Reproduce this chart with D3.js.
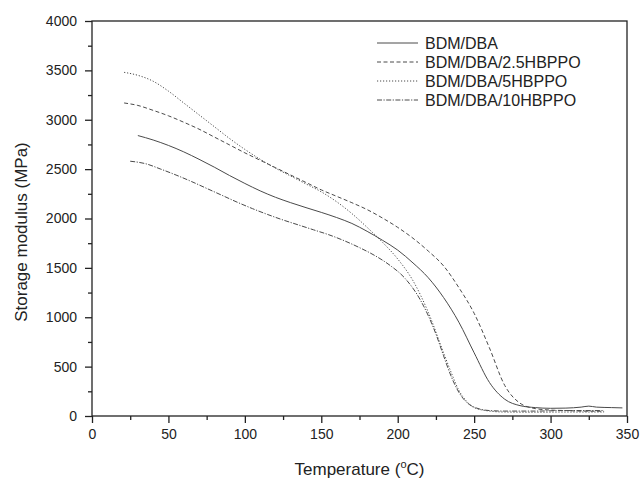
<!DOCTYPE html>
<html>
<head>
<meta charset="utf-8">
<script src="https://cdn.jsdelivr.net/npm/d3@7"></script>
<style>
  body { margin: 0; background: #fff; }
  svg { display: block; font-family: "Liberation Sans", Arial, sans-serif; }
</style>
</head>
<body>
<div id="chart"></div>
<script>
// 数据：温度 (°C) 与储能模量 (MPa)
const seriesNames = ['BDM/DBA', 'BDM/DBA/2.5HBPPO', 'BDM/DBA/5HBPPO', 'BDM/DBA/10HBPPO'];

const tempDBA = [30, 40, 50, 60, 70, 80, 90, 100, 110, 120, 130, 140, 150, 160, 170, 180, 190, 200, 210, 220, 230, 240, 250, 260, 270, 280, 290, 300, 310, 320, 325, 330, 340, 347];
const modDBA = [2840, 2795, 2740, 2675, 2600, 2520, 2435, 2355, 2280, 2215, 2160, 2110, 2062, 2010, 1950, 1870, 1780, 1680, 1550, 1400, 1200, 950, 640, 340, 170, 105, 85, 78, 80, 90, 100, 90, 85, 82];

const temp25 = [21, 30, 40, 50, 60, 70, 80, 90, 100, 110, 120, 130, 140, 150, 160, 170, 180, 190, 200, 210, 220, 230, 240, 250, 260, 270, 280, 290, 300, 310, 320, 335];
const mod25 = [3170, 3145, 3095, 3040, 2975, 2905, 2825, 2745, 2665, 2590, 2515, 2440, 2365, 2290, 2225, 2160, 2090, 2005, 1910, 1800, 1670, 1520, 1300, 1040, 690, 310, 130, 75, 60, 55, 50, 48];

const temp5 = [21, 30, 40, 50, 60, 70, 80, 90, 100, 110, 120, 130, 140, 150, 160, 170, 180, 190, 200, 210, 220, 230, 235, 240, 245, 250, 260, 270, 290, 310, 335];
const mod5 = [3480, 3450, 3390, 3290, 3170, 3050, 2930, 2810, 2700, 2600, 2510, 2430, 2350, 2270, 2170, 2050, 1910, 1760, 1590, 1370, 1050, 640, 440, 260, 150, 85, 50, 40, 38, 40, 40];

const temp10 = [25, 35, 45, 55, 65, 75, 85, 95, 105, 115, 125, 135, 145, 155, 165, 175, 185, 195, 205, 215, 225, 230, 235, 240, 245, 250, 260, 270, 290, 310, 335];
const mod10 = [2580, 2555, 2500, 2440, 2375, 2305, 2235, 2165, 2100, 2040, 1985, 1935, 1885, 1835, 1775, 1705, 1625, 1525, 1390, 1170, 830, 610, 400, 240, 140, 90, 55, 50, 50, 55, 55];

const xTicks = [0, 50, 100, 150, 200, 250, 300, 350];
const yTicks = [0, 500, 1000, 1500, 2000, 2500, 3000, 3500, 4000];

const series = [
  { name: seriesNames[0], t: tempDBA, v: modDBA, dash: null },
  { name: seriesNames[1], t: temp25, v: mod25, dash: '4,2.5' },
  { name: seriesNames[2], t: temp5, v: mod5, dash: '1.2,1.8' },
  { name: seriesNames[3], t: temp10, v: mod10, dash: '5,1.5,1.2,1.5' }
];

const width = 642, height = 480;
const margin = { left: 92, right: 15, top: 21, bottom: 64 };
const innerW = width - margin.left - margin.right;
const innerH = height - margin.top - margin.bottom;
const lineColor = '#4a4a4a';

const svg = d3.select('#chart').append('svg')
  .attr('width', width)
  .attr('height', height);

const g = svg.append('g')
  .attr('transform', `translate(${margin.left},${margin.top})`);

const x = d3.scaleLinear().domain([0, 350]).range([0, innerW]);
const y = d3.scaleLinear().domain([0, 4000]).range([innerH, 0]);

// 次刻度
g.append('g')
  .attr('transform', `translate(0,${innerH})`)
  .call(d3.axisBottom(x).tickValues(d3.range(25, 350, 50)).tickSize(4).tickFormat(''))
  .call(s => s.select('.domain').remove())
  .selectAll('line').attr('stroke', '#222').attr('stroke-width', 1.3);

g.append('g')
  .call(d3.axisLeft(y).tickValues(d3.range(250, 4000, 500)).tickSize(4).tickFormat(''))
  .call(s => s.select('.domain').remove())
  .selectAll('line').attr('stroke', '#222').attr('stroke-width', 1.3);

// 主刻度
const xAxis = g.append('g')
  .attr('transform', `translate(0,${innerH})`)
  .call(d3.axisBottom(x).tickValues(xTicks).tickSize(7).tickPadding(6).tickFormat(d3.format('d')));
xAxis.select('.domain').remove();
xAxis.selectAll('line').attr('stroke', '#222').attr('stroke-width', 1.3);
xAxis.selectAll('text').attr('font-size', 14).attr('fill', '#222')
  .attr('font-family', '"Liberation Sans", Arial, sans-serif');

const yAxis = g.append('g')
  .call(d3.axisLeft(y).tickValues(yTicks).tickSize(7).tickPadding(8).tickFormat(d3.format('d')));
yAxis.select('.domain').remove();
yAxis.selectAll('line').attr('stroke', '#222').attr('stroke-width', 1.3);
yAxis.selectAll('text').attr('font-size', 14).attr('fill', '#222')
  .attr('font-family', '"Liberation Sans", Arial, sans-serif');

// 边框
g.append('rect')
  .attr('width', innerW)
  .attr('height', innerH)
  .attr('fill', 'none')
  .attr('stroke', '#222')
  .attr('stroke-width', 1.3);

// 曲线
const line = d3.line()
  .x(d => x(d[0]))
  .y(d => y(d[1]))
  .curve(d3.curveMonotoneX);

series.forEach(s => {
  g.append('path')
    .datum(s.t.map((t, i) => [t, s.v[i]]))
    .attr('d', line)
    .attr('fill', 'none')
    .attr('stroke', lineColor)
    .attr('stroke-width', 1)
    .attr('stroke-dasharray', s.dash);
});

// 图例
const legend = svg.append('g');
series.forEach((s, i) => {
  const ly = 43 + i * 19;
  legend.append('line')
    .attr('x1', 377).attr('x2', 418)
    .attr('y1', ly).attr('y2', ly)
    .attr('stroke', lineColor)
    .attr('stroke-width', 1)
    .attr('stroke-dasharray', s.dash);
  legend.append('text')
    .attr('x', 425)
    .attr('y', ly + 6)
    .attr('font-size', 16)
    .attr('fill', '#222')
    .text(s.name);
});

// 坐标轴标题
const xTitle = svg.append('text')
  .attr('x', margin.left + innerW / 2)
  .attr('y', 475)
  .attr('text-anchor', 'middle')
  .attr('font-size', 17)
  .attr('fill', '#222');
xTitle.append('tspan').text('Temperature (');
xTitle.append('tspan').attr('font-size', 11).attr('dy', -7).text('o');
xTitle.append('tspan').attr('dy', 7).text('C)');

svg.append('text')
  .attr('transform', 'translate(27,232) rotate(-90)')
  .attr('text-anchor', 'middle')
  .attr('font-size', 17)
  .attr('fill', '#222')
  .text('Storage modulus (MPa)');
</script>
</body>
</html>
